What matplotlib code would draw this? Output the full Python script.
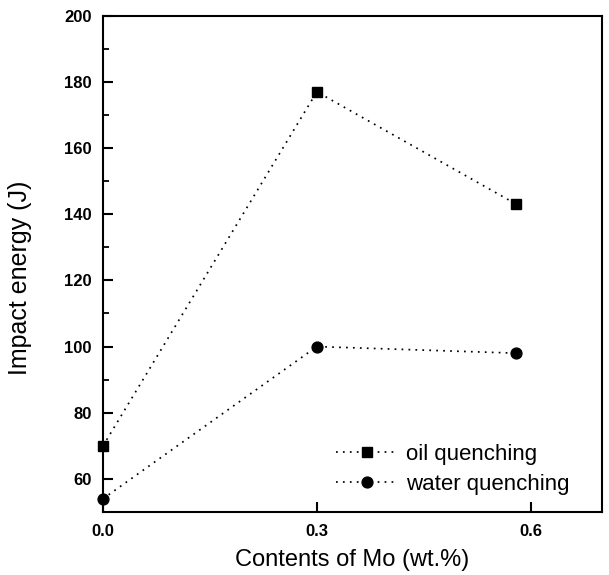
import matplotlib
matplotlib.use("Agg")
import matplotlib.pyplot as plt
from matplotlib.ticker import MultipleLocator

plt.rcParams['font.family'] = ['Liberation Sans', 'DejaVu Sans']

mo_content = [0.0, 0.3, 0.58]
oil_quenching = [70, 177, 143]
water_quenching = [54, 100, 98]
x_ticks = [0.0, 0.3, 0.6]
x_tick_labels = ['0.0', '0.3', '0.6']
y_ticks = [60, 80, 100, 120, 140, 160, 180, 200]

fig = plt.figure(figsize=(6.09, 5.75), dpi=100)
ax = fig.add_axes([103/609, 1-512/575, (602-103)/609, (512-15.7)/575])

ax.plot(mo_content, oil_quenching, color='black', lw=1.25, dashes=(1, 3),
        marker='s', markersize=7.2, label='oil quenching', clip_on=False, zorder=3)
ax.plot(mo_content, water_quenching, color='black', lw=1.25, dashes=(1, 3),
        marker='o', markersize=7.8, label='water quenching', clip_on=False, zorder=3)

ax.set_xlim(0, 0.7)
ax.set_ylim(50, 200)
ax.set_xticks(x_ticks)
ax.set_xticklabels(x_tick_labels)
ax.set_yticks(y_ticks)
ax.yaxis.set_minor_locator(MultipleLocator(10))

for s in ax.spines.values():
    s.set_linewidth(1.5)

ax.tick_params(axis='both', which='major', direction='in', length=7, width=1.5,
               labelsize=12, pad=8)
ax.tick_params(axis='y', which='minor', direction='in', length=4, width=1.3)
ax.tick_params(axis='x', pad=9)
for lab in ax.get_xticklabels() + ax.get_yticklabels():
    lab.set_fontweight('bold')

ax.set_xlabel('Contents of Mo (wt.%)', fontsize=17, labelpad=7)
ax.set_ylabel('Impact energy (J)', fontsize=18)
ax.yaxis.set_label_coords(-0.142, 0.471)

leg = ax.legend(loc='upper left', bbox_to_anchor=(336/609, 1-444/575),
                bbox_transform=fig.transFigure, frameon=False, fontsize=16,
                borderpad=0, borderaxespad=0, handlelength=2.75,
                handletextpad=0.4, labelspacing=0.4, numpoints=1)

fig.savefig('out.png', dpi=100)
